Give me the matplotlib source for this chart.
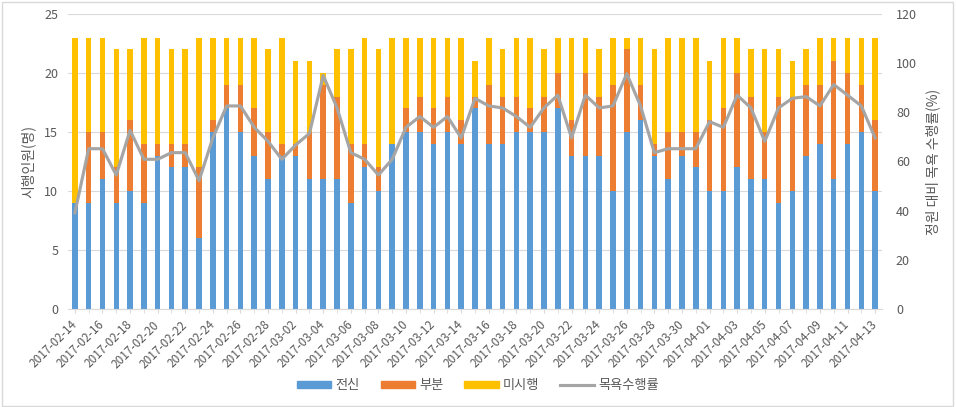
import matplotlib
matplotlib.use("Agg")
import matplotlib.pyplot as plt
import numpy as np
import pandas as pd
from matplotlib.lines import Line2D
from matplotlib.patches import Patch, Rectangle

plt.rcParams["font.family"] = ["Noto Sans CJK KR", "DejaVu Sans"]

# data
dates = pd.date_range("2017-02-14", "2017-04-13").strftime("%Y-%m-%d").tolist()

full = [9, 9, 11, 9, 10, 9, 13, 12, 12, 6, 15, 17, 15, 13, 11,
        13, 13, 11, 11, 11, 9, 12, 10, 14, 15, 15, 14, 15, 14, 17,
        14, 14, 15, 15, 15, 17, 13, 13, 13, 10, 15, 16, 13, 11, 13,
        12, 10, 10, 12, 11, 11, 9, 10, 13, 14, 11, 14, 15, 10]
partial = [0, 6, 4, 3, 6, 5, 1, 2, 2, 6, 1, 2, 4, 4, 4,
           1, 1, 4, 8, 7, 5, 2, 2, 0, 2, 3, 3, 3, 2, 1,
           5, 4, 3, 2, 3, 3, 3, 7, 5, 9, 7, 3, 1, 4, 2,
           3, 6, 7, 8, 7, 4, 9, 8, 6, 5, 10, 6, 4, 6]
not_done = [14, 8, 8, 10, 6, 9, 9, 8, 8, 11, 7, 4, 4, 6, 7,
            9, 7, 6, 1, 4, 8, 9, 10, 9, 6, 5, 6, 5, 7, 3,
            4, 4, 5, 6, 4, 3, 7, 3, 4, 4, 1, 4, 8, 8, 8,
            8, 5, 6, 3, 4, 7, 4, 3, 3, 4, 2, 3, 4, 7]
rate = [39.1, 65.2, 65.2, 54.5, 72.7, 60.9, 60.9, 63.6, 63.6, 52.2,
        69.6, 82.6, 82.6, 73.9, 68.2, 60.9, 66.7, 71.4, 95.0, 81.8,
        63.6, 60.9, 54.5, 60.9, 73.9, 78.3, 73.9, 78.3, 69.6, 85.7,
        82.6, 81.8, 78.3, 73.9, 81.8, 87.0, 69.6, 87.0, 81.8, 82.6,
        95.7, 82.6, 63.6, 65.2, 65.2, 65.2, 76.2, 73.9, 87.0, 81.8,
        68.2, 81.8, 85.7, 86.4, 82.6, 91.3, 87.0, 82.6, 69.6]

BLUE = "#5B9BD5"
ORANGE = "#ED7D31"
GOLD = "#FFC000"
GRAY = "#A5A5A5"
TEXT = "#595959"

fig = plt.figure(figsize=(9.56, 4.07), dpi=100)
ax = fig.add_axes([0.0711, 0.2408, 0.8515, 0.7248])

x = np.arange(len(dates))
w = 0.4
full_a = np.array(full)
part_a = np.array(partial)
ax.bar(x, full_a, w, color=BLUE, zorder=2)
ax.bar(x, part_a, w, bottom=full_a, color=ORANGE, zorder=2)
ax.bar(x, not_done, w, bottom=full_a + part_a, color=GOLD, zorder=2)

ax.set_xlim(-0.5, len(dates) - 0.5)
ax.set_ylim(0, 25)
ax.set_yticks(range(0, 26, 5))
ax.grid(axis="y", color="#D9D9D9", linewidth=0.8, zorder=0)
ax.set_axisbelow(True)
ax.set_xticks(x[::2])
ax.set_xticklabels(dates[::2], rotation=45, ha="right", va="center",
                   rotation_mode="anchor", fontsize=8.5, color=TEXT)
ax.set_xticks(x, minor=True)
ax.tick_params(axis="x", which="both", length=3, color="#D9D9D9", pad=7)
ax.tick_params(axis="y", length=0, labelsize=9, labelcolor=TEXT, pad=7)
for s in ["top", "right", "left"]:
    ax.spines[s].set_visible(False)
ax.spines["bottom"].set_color("#D9D9D9")
ax.set_ylabel("시행인원(명)", fontsize=10, color=TEXT, labelpad=6)

ax2 = ax.twinx()
ax2.plot(x, rate, color=GRAY, linewidth=2.25, zorder=3)
ax2.set_ylim(0, 120)
ax2.set_yticks(range(0, 121, 20))
ax2.tick_params(axis="y", length=0, labelsize=9, labelcolor=TEXT, pad=10)
for s in ax2.spines.values():
    s.set_visible(False)
ax2.set_ylabel("정원 대비 목욕 수행률(%)", fontsize=10, color=TEXT,
               rotation=90, labelpad=6)

handles = [Patch(color=BLUE, label="전신"), Patch(color=ORANGE, label="부분"),
           Patch(color=GOLD, label="미시행"),
           Line2D([], [], color=GRAY, linewidth=2.25, label="목욕수행률")]
fig.legend(handles=handles, loc="center", bbox_to_anchor=(0.5, 0.052), ncol=4,
           frameon=False, fontsize=9.5, handlelength=2.6, handleheight=0.5,
           columnspacing=1.6, handletextpad=0.3, labelcolor=TEXT)

fig.patches.append(Rectangle((0.002, 0.003), 0.995, 0.993, transform=fig.transFigure,
                             fill=False, edgecolor="#D9D9D9", linewidth=1))

fig.savefig("out.png", dpi=100, facecolor="white")
